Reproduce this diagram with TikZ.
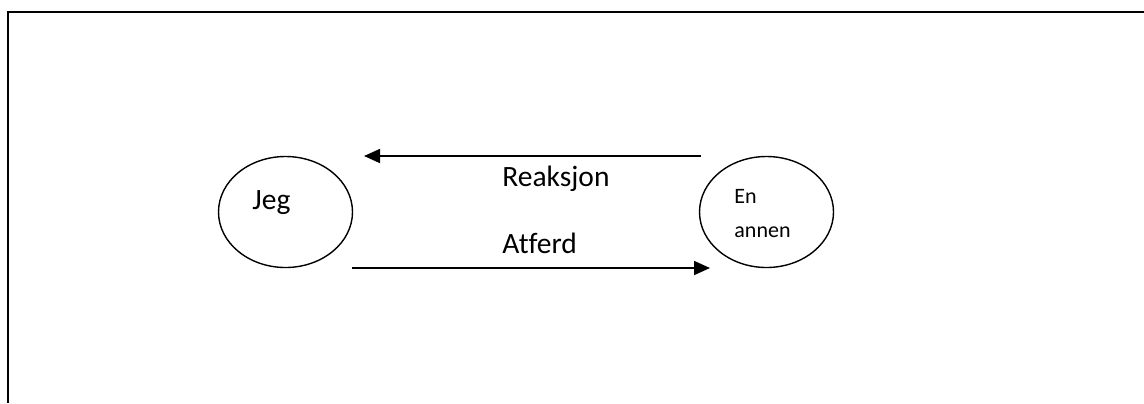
\documentclass[tikz,border=0pt]{standalone}
\usepackage{fontspec}
\setmainfont{Carlito}[Ligatures=NoCommon]
\usetikzlibrary{shapes.geometric,arrows.meta}
\tikzset{
  party/.style={draw=black, line width=0.7pt, ellipse, minimum width=67pt, minimum height=55.5pt, inner sep=0pt},
  flow/.style={line width=0.85pt, -{Triangle[length=8pt,width=7pt]}},
  bigtext/.style={font=\fontsize{14.75}{17}\selectfont, anchor=base west, inner sep=0pt},
  smalltext/.style={font=\fontsize{11}{13}\selectfont, anchor=base west, inner sep=0pt},
  frame/.style={line width=1pt}
}
\begin{document}
\begin{tikzpicture}[x=0.5pt, y=-0.5pt]
  \useasboundingbox (0,0) rectangle (1144,403);
  % open frame: top and left edges only
  \coordinate (ftop) at (1144,11.5);
  \coordinate (fcorner) at (8,11.5);
  \coordinate (fbottom) at (8,403);
  \draw[frame] (ftop) -- (fcorner) -- (fbottom);

  % the two parties
  \node[party] (jeg) at (285.5,212) {};
  \node[party] (annen) at (766.5,212) {};
  \node[bigtext] (jegtxt) at (252,209) {Jeg};
  \node[smalltext] (entxt) at (734,203) {En};
  \node[smalltext] (annentxt) at (734,237) {annen};

  % reaction back to me, behaviour towards the other
  \coordinate (rstart) at (701,156);
  \coordinate (rend) at (364,156);
  \coordinate (astart) at (352,268);
  \coordinate (aend) at (710,268);
  \draw[flow] (rstart) -- (rend);
  \draw[flow] (astart) -- (aend);
  \node[bigtext] (reaksjon) at (502,186) {Reaksjon};
  \node[bigtext] (atferd) at (502,253) {Atferd};
\end{tikzpicture}
\end{document}
